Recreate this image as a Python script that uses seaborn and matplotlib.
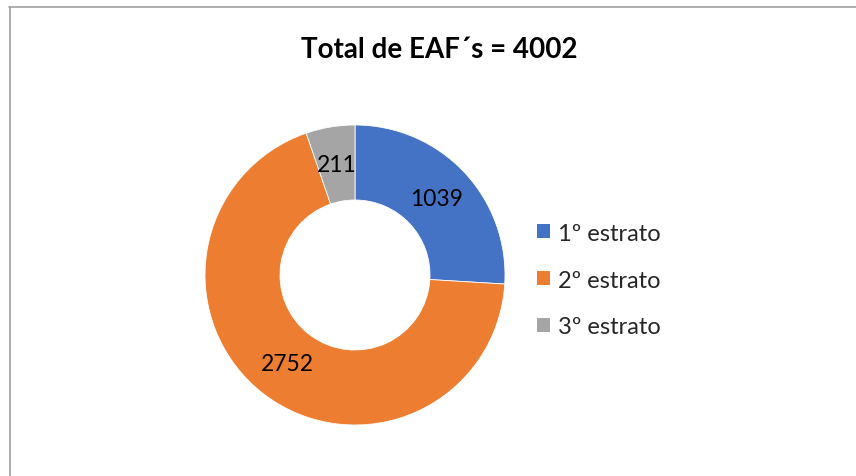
import matplotlib
matplotlib.use("Agg")
import matplotlib.pyplot as plt
import seaborn as sns
import numpy as np
from matplotlib.lines import Line2D
from matplotlib.patches import Patch

categories = ["1º estrato", "2º estrato", "3º estrato"]
values = [1039, 2752, 211]
colors = ["#4472C4", "#ED7D31", "#A5A5A5"]
title = "Total de EAF´s = 4002"

sns.set_theme(style="white")
plt.rcParams['font.family'] = ['Lato', 'DejaVu Sans']

fig = plt.figure(figsize=(8.56, 4.77), dpi=100)
fig.patch.set_facecolor("white")

W, H = 856, 477
cx, cy, R = 355, 276, 150
ax = fig.add_axes([(cx - R) / W, (H - cy - R) / H, 2 * R / W, 2 * R / H])
wedges, _ = ax.pie(values, colors=colors, startangle=90, counterclock=False,
                   radius=1.0, wedgeprops=dict(width=0.5, edgecolor="white", linewidth=0.6))
for w, v in zip(wedges, values):
    ang = np.deg2rad((w.theta1 + w.theta2) / 2)
    ax.text(0.745 * np.cos(ang), 0.745 * np.sin(ang), str(v), ha="center", va="center",
            fontsize=16.5, color="black")
ax.set_xlim(-1, 1)
ax.set_ylim(-1, 1)
ax.set_aspect("equal")
ax.axis("off")

fig.text(439 / W, 1 - 50 / H, title, ha="center", va="center", fontsize=20,
         fontweight="bold", color="black")

handles = [Patch(facecolor=c, edgecolor="none") for c in colors]
leg = fig.legend(handles, categories, loc="center left",
                 bbox_to_anchor=(537 / W, 1 - 281 / H), frameon=False,
                 fontsize=17, handlelength=0.55, handleheight=0.55,
                 handletextpad=0.35, labelspacing=1.1, borderpad=0,
                 borderaxespad=0)

# chart area border (top and left edges visible)
fig.add_artist(Line2D([9 / W, 1.0], [1 - 7.5 / H, 1 - 7.5 / H], transform=fig.transFigure,
                      color="#A0A0A0", linewidth=1.2))
fig.add_artist(Line2D([10 / W, 10 / W], [0, 1 - 7.5 / H], transform=fig.transFigure,
                      color="#A0A0A0", linewidth=1.2))

fig.savefig("out.png", dpi=100, facecolor="white")
